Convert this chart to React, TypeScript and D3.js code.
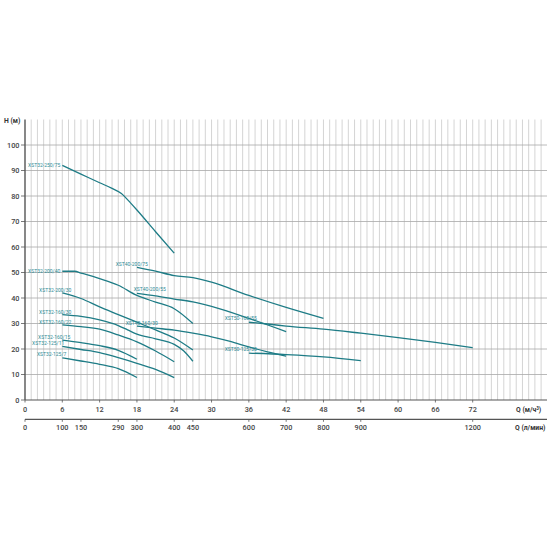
import React from "react";
import * as d3 from "d3";

// Q in m³/h, H in m
const pumpNames = [
  "XST32-250/75",
  "XST32-200/40",
  "XST32-200/30",
  "XST32-160/30",
  "XST32-160/22",
  "XST32-160/15",
  "XST32-125/11",
  "XST32-125/7",
  "XST40-200/75",
  "XST40-200/55",
  "XST40-160/30",
  "XST50-160/55",
  "XST50-125/30",
];

const flowValues = [
  [6, 9, 12, 14, 15.5, 17, 18, 21, 24],
  [6, 8, 9, 12, 15, 18, 21, 24, 27],
  [6, 9, 12, 15, 18, 21, 24, 27],
  [6, 9, 12, 15, 16.5, 18, 21, 24, 25.5, 27],
  [6, 9, 12, 15, 18, 21, 24],
  [6, 9, 12, 15, 18],
  [6, 9, 12, 15, 18, 21, 24],
  [6, 9, 12, 15, 18],
  [18, 21, 24, 27, 30, 36, 42, 48],
  [18, 21, 24, 27, 30, 36, 42],
  [18, 21, 24, 27, 30, 33, 36, 39, 42],
  [36, 39, 42, 48, 54, 60, 66, 72],
  [36, 42, 48, 54],
];

const headValues = [
  [92, 88.6, 85.2, 83, 81, 77.2, 74.5, 66, 57.6],
  [50.5, 50.5, 49.8, 47.6, 45, 41, 38.4, 35.8, 30],
  [42, 39.8, 36.5, 33.5, 30.5, 27.5, 24.3, 19.6],
  [33.5, 32.8, 31.4, 29.2, 27.5, 25.8, 24, 21.8, 19.3, 15.2],
  [29.5, 28.8, 27.8, 25.5, 22.8, 19.2, 15],
  [23.5, 22.5, 21.3, 19.5, 16],
  [21, 19.8, 18.6, 16.6, 14.4, 12, 8.8],
  [16.5, 15.3, 14, 12.3, 8.8],
  [52, 50.5, 48.8, 48, 46.2, 41, 36.3, 32],
  [41.8, 40.8, 39.6, 38.5, 36.7, 32, 26.8],
  [29, 28.2, 27.4, 26.2, 24.8, 23, 20.8, 18.9, 17.2],
  [30.5, 29.8, 29, 27.8, 26.2, 24.5, 22.6, 20.5],
  [18.4, 17.8, 16.9, 15.4],
];

const flowTicks = [0, 6, 12, 18, 24, 30, 36, 42, 48, 54, 60, 66, 72];
// l/min scale: where each label sits on the m³/h axis, and its text
const litreTickAt = [0, 6, 9, 15, 18, 24, 27, 36, 42, 48, 54, 72];
const litreTickText = ["0", "100", "150", "290", "300", "400", "450", "600", "700", "800", "900", "1200"];
const headTicks = [0, 10, 20, 30, 40, 50, 60, 70, 80, 90, 100];

// label placement relative to the curve start (px)
const labelShift: Record<string, [number, number]> = {
  "XST32-250/75": [-2, 0],
  "XST32-200/40": [-2, 0],
  "XST32-200/30": [9, -3],
  "XST32-160/30": [9, -2.6],
  "XST32-160/22": [9, -2.6],
  "XST32-160/15": [8, -3.3],
  "XST32-125/11": [2, -3],
  "XST32-125/7": [4, -3.3],
  "XST40-200/75": [11, -3.3],
  "XST40-200/55": [29, -4.3],
  "XST40-160/30": [21, -3],
  "XST50-160/55": [8, -3.7],
  "XST50-125/30": [8, -4],
};

const TEAL = "#1e7c86";
const FONT = "Roboto, 'Noto Sans', sans-serif";

export default function App() {
  const x = d3.scaleLinear().domain([0, 83]).range([25, 541.1]);
  const y = d3.scaleLinear().domain([0, 110]).range([400, 119.5]);

  const line = d3
    .line<[number, number]>()
    .x((d) => x(d[0]))
    .y((d) => y(d[1]))
    .curve(d3.curveMonotoneX);

  const gridX = d3.range(1, 84);
  const axisY2 = 419.3;

  return (
    <svg
      width={550}
      height={550}
      style={{ position: "absolute", left: 0, top: 0, background: "#fff" }}
      fontFamily={FONT}
    >
      {/* vertical grid */}
      {gridX.map((q) => (
        <line
          key={"gx" + q}
          x1={x(q)}
          x2={x(q)}
          y1={y(110)}
          y2={y(0)}
          stroke="#c9c9c9"
          strokeWidth={0.8}
        />
      ))}
      {/* horizontal grid */}
      {headTicks.slice(1).map((h) => (
        <line
          key={"gy" + h}
          x1={x(0)}
          x2={547}
          y1={y(h)}
          y2={y(h)}
          stroke="#a8a8a8"
          strokeWidth={0.8}
        />
      ))}

      {/* y axis */}
      <line x1={x(0)} x2={x(0)} y1={y(110)} y2={y(0)} stroke="#555" strokeWidth={1.4} />
      {headTicks.map((h) => (
        <g key={"ty" + h}>
          <line x1={x(0) - 4} x2={x(0)} y1={y(h)} y2={y(h)} stroke="#555" strokeWidth={0.8} />
          <text
            x={x(0) - 5.5}
            y={y(h)}
            dy="0.35em"
            textAnchor="end"
            fontSize={7.3}
            fill="#444"
            fontWeight={500}
          >
            {h}
          </text>
        </g>
      ))}
      <text x={4} y={121} dy="0.35em" fontSize={6.8} fill="#333" fontWeight={700}>
        H (м)
      </text>

      {/* x axis m3/h */}
      <line x1={x(0)} x2={547} y1={y(0)} y2={y(0)} stroke="#555" strokeWidth={1.2} />
      {flowTicks.map((q) => (
        <g key={"tx" + q}>
          <line x1={x(q)} x2={x(q)} y1={y(0)} y2={y(0) + 2.5} stroke="#555" strokeWidth={0.8} />
          <text
            x={x(q)}
            y={409.5}
            dy="0.35em"
            textAnchor="middle"
            fontSize={7.3}
            fill="#444"
            fontWeight={500}
          >
            {q}
          </text>
        </g>
      ))}
      <text x={516} y={410} dy="0.35em" fontSize={6.8} fill="#333" fontWeight={700}>
        Q (м/ч<tspan dy="-2.5" fontSize={4.5}>3</tspan>
        <tspan dy="2.5">)</tspan>
      </text>

      {/* x axis l/min */}
      <line x1={x(0)} x2={547} y1={axisY2} y2={axisY2} stroke="#555" strokeWidth={1.2} />
      {litreTickAt.map((q, i) => (
        <g key={"tl" + i}>
          <line x1={x(q)} x2={x(q)} y1={axisY2} y2={axisY2 + 2.5} stroke="#555" strokeWidth={0.8} />
          <text
            x={x(q)}
            y={427.5}
            dy="0.35em"
            textAnchor="middle"
            fontSize={7.3}
            fill="#444"
            fontWeight={500}
          >
            {litreTickText[i]}
          </text>
        </g>
      ))}
      <text x={515} y={427.5} dy="0.35em" fontSize={6.8} fill="#333" fontWeight={700}>
        Q (л/мин)
      </text>

      {/* pump curves */}
      {pumpNames.map((name, i) => {
        const pts = flowValues[i].map((q, j) => [q, headValues[i][j]] as [number, number]);
        const [dx, dy] = labelShift[name];
        return (
          <g key={name}>
            <path d={line(pts) ?? ""} fill="none" stroke={TEAL} strokeWidth={1.3} />
            <text
              x={x(pts[0][0]) + dx}
              y={y(pts[0][1]) + dy}
              dy="0.35em"
              textAnchor="end"
              fontSize={5}
              fill="#2f8d98"
            >
              {name}
            </text>
          </g>
        );
      })}
    </svg>
  );
}
